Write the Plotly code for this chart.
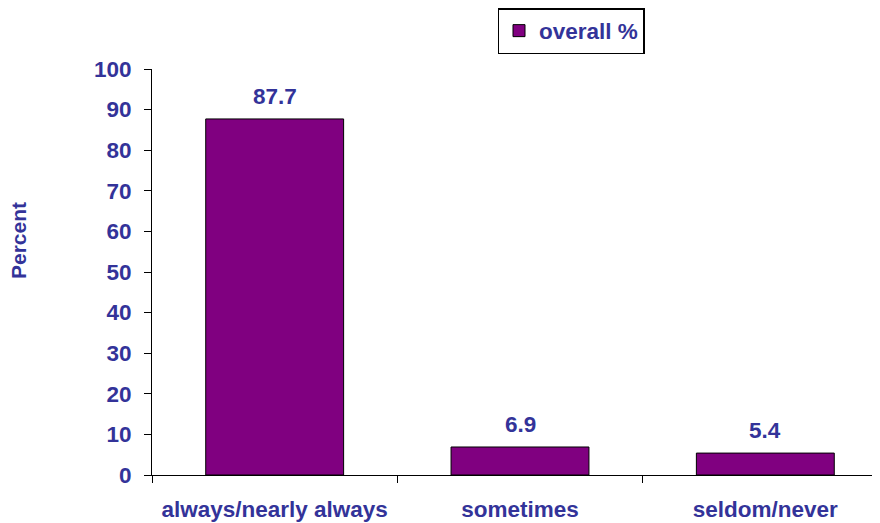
import plotly.graph_objects as go

categories = ["always/nearly always", "sometimes", "seldom/never"]
values = [87.7, 6.9, 5.4]
value_labels = ["87.7", "6.9", "5.4"]
series_name = "overall %"
y_ticks = [0, 10, 20, 30, 40, 50, 60, 70, 80, 90, 100]

TEXT = "#333399"
FONT = "Liberation Sans, Arial, sans-serif"
FS = 22.5

L, T, B = 144, 61, 56
W, H = 880, 523
PW = W - L
PH = H - T - B

fig = go.Figure()
fig.add_trace(go.Bar(
    x=categories, y=values, name="<b>%s</b>" % series_name,
    marker=dict(color="#800080", line=dict(color="black", width=1)),
    width=0.562, showlegend=True,
))

for c, v, t in zip(categories, values, value_labels):
    fig.add_annotation(x=c, y=v, text="<b>%s</b>" % t, showarrow=False,
                       yanchor="bottom", yshift=8,
                       font=dict(family=FONT, size=FS, color=TEXT))

fig.add_annotation(xref="paper", yref="paper", x=(10 - L) / PW, y=(H - B - 233) / PH,
                   text="<b>Percent</b>", textangle=-90, showarrow=False,
                   xanchor="center", yanchor="middle",
                   font=dict(family=FONT, size=21, color=TEXT))

fig.update_layout(
    width=W, height=H,
    margin=dict(l=L, r=0, t=T, b=B, autoexpand=False),
    paper_bgcolor="white", plot_bgcolor="white",
    font=dict(family=FONT, size=FS, color=TEXT),
    showlegend=True,
    legend=dict(x=(563 - L) / PW, y=(H - B) / PH,
                xanchor="center", yanchor="top",
                bordercolor="black", borderwidth=1.5, bgcolor="white",
                font=dict(family=FONT, size=FS, color=TEXT),
                itemwidth=30),
    xaxis=dict(type="category", range=[-0.5, 2.5], tickson="boundaries",
               ticks="outside", ticklen=7, tickcolor="black", tickwidth=1,
               showline=True, linecolor="black", linewidth=1,
               showgrid=False, zeroline=False, automargin=False, tickangle=0,
               ticklabelstandoff=14,
               tickfont=dict(family=FONT, size=FS, color=TEXT),
               tickvals=categories,
               ticktext=["<b>%s</b>" % c for c in categories]),
    yaxis=dict(range=[0, 100], tickvals=y_ticks,
               ticktext=["<b>%d</b>" % v for v in y_ticks],
               ticks="outside", ticklen=7, tickcolor="black", tickwidth=1,
               showline=True, linecolor="black", linewidth=1,
               showgrid=False, zeroline=False, ticklabelstandoff=8,
               automargin=False,
               tickfont=dict(family=FONT, size=FS, color=TEXT)),
)

fig.write_html("out.html")
